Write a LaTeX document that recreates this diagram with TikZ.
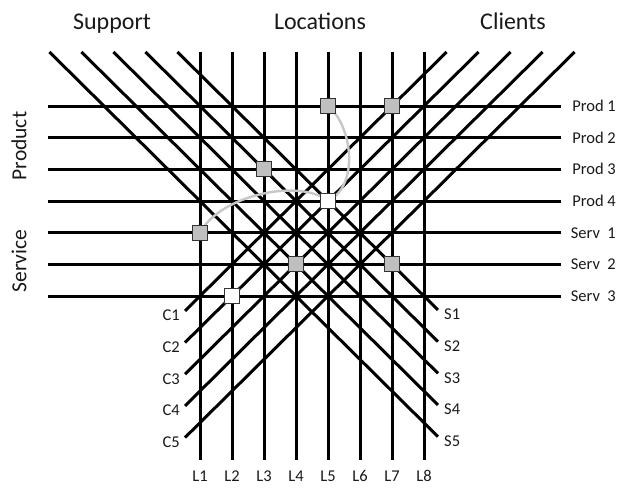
\documentclass[tikz,border=0pt]{standalone}
\usepackage{fontspec}
\setmainfont{Carlito}
\usetikzlibrary{calc}
\begin{document}
\begin{tikzpicture}[x=1pt,y=-1pt,
  gridline/.style={line width=3pt, black},
  boxg/.style={draw=black!80, line width=1.1pt, fill=black!25, minimum size=15pt, inner sep=0pt},
  boxw/.style={boxg, fill=white},
  link/.style={draw=black!22, line width=2.4pt},
  lab/.style={font=\fontsize{16.5}{16.5}\selectfont, inner sep=0pt, text=black!90},
  head/.style={font=\fontsize{24}{24}\selectfont, inner sep=0pt, text=black!90}]
\useasboundingbox (0,0) rectangle (618,487);

% headings
\node[head, anchor=base] (hsup) at (112,30) {Support};
\node[head, anchor=base] (hloc) at (320,30) {Locations};
\node[head, anchor=base] (hcli) at (513,30) {Clients};
\node[head, font=\fontsize{21.5}{21.5}\selectfont, rotate=90] (hprod) at (19,146) {Product};
\node[head, font=\fontsize{21.5}{21.5}\selectfont, rotate=90] (hserv) at (19,261) {Service};

% support lines (down-right)
\foreach \k in {1,...,5} {
  \pgfmathsetmacro\xt{200+32*(0.295-\k)}
  \pgfmathsetmacro\yb{106+31.67*(5.44+\k)}
  \coordinate (St\k) at (\xt,52);
  \coordinate (Sb\k) at (438,\yb);
  \draw[gridline] (St\k) -- (Sb\k);
  \node[lab, anchor=base west] (Slab\k) at ($(Sb\k)+(6,10)$) {S\k};
}
% client lines (up-right)
\foreach \k in {1,...,5} {
  \pgfmathsetmacro\xt{200+32*(6.705+\k)}
  \pgfmathsetmacro\yb{106+31.67*(5.469+\k)}
  \coordinate (Ct\k) at (\xt,52);
  \coordinate (Cb\k) at (185,\yb);
  \draw[gridline] (Cb\k) -- (Ct\k);
  \node[lab, anchor=base east] (Clab\k) at ($(Cb\k)+(-5,10)$) {C\k};
}
% location lines
\foreach \i in {1,...,8} {
  \pgfmathsetmacro\xx{200+32*(\i-1)}
  \coordinate (Lt\i) at (\xx,52);
  \coordinate (Lb\i) at (\xx,460);
  \draw[gridline] (Lt\i) -- (Lb\i);
  \node[lab, anchor=base] (Llab\i) at (\xx,481) {L\i};
}
% product / service lines
\foreach \j/\t in {0/Prod 1,1/Prod 2,2/Prod 3,3/Prod 4,4/Serv~ 1,5/Serv~ 2,6/Serv~ 3} {
  \pgfmathsetmacro\yy{106+31.67*\j}
  \coordinate (Rl\j) at (48,\yy);
  \coordinate (Rr\j) at (561,\yy);
  \draw[gridline] (Rl\j) -- (Rr\j);
  \node[lab, anchor=base east] (Rlab\j) at (616,\yy+5.5) {\t};
}

% grid points holding boxes
\coordinate (pA) at (328,106);        % L5 Prod 1
\coordinate (pB) at (392,106);        % L7 Prod 1
\coordinate (pC) at (264,169.34);     % L3 Prod 3
\coordinate (pD) at (328,201.01);     % L5 Prod 4
\coordinate (pE) at (200,232.68);     % L1 Serv 1
\coordinate (pF) at (296,264.35);     % L4 Serv 2
\coordinate (pG) at (392,264.35);     % L7 Serv 2
\coordinate (pH) at (232,296.02);     % L2 Serv 3

% grey path
\draw[link] (pE) .. controls (220,195) and (300,178) .. (pD);
\draw[link] (pD) .. controls (360,185) and (352,125) .. (pA);

\node[boxg] (bA) at (pA) {};
\node[boxg] (bB) at (pB) {};
\node[boxg] (bC) at (pC) {};
\node[boxw] (bD) at (pD) {};
\node[boxg] (bE) at (pE) {};
\node[boxg] (bF) at (pF) {};
\node[boxg] (bG) at (pG) {};
\node[boxw] (bH) at (pH) {};
\end{tikzpicture}
\end{document}
